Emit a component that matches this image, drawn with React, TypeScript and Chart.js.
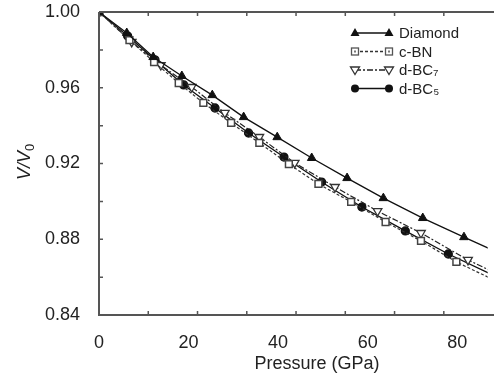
import React, { useEffect, useRef } from "react";
import { Chart, registerables } from "chart.js";

Chart.register(...registerables);

const seriesLabels = ["Diamond", "c-BN", "d-BC\u2087", "d-BC\u2085"];

const diamondP = [0, 6.2, 12.1, 18.5, 25.3, 32.3, 39.8, 47.5, 55.4, 63.5, 72.3, 81.5, 91.2];
const diamondV = [1.0, 0.9889, 0.9762, 0.9662, 0.9561, 0.9445, 0.9339, 0.9229, 0.9123, 0.9017, 0.8912, 0.8811, 0.8707];

const cbnP = [0, 6.8, 12.3, 17.8, 23.3, 29.5, 35.8, 42.4, 49.0, 56.3, 64.0, 71.9, 79.8, 88.2];
const cbnV = [1.0, 0.9852, 0.9736, 0.9625, 0.952, 0.9414, 0.9309, 0.9197, 0.9092, 0.8997, 0.8891, 0.8791, 0.868, 0.8585];

const bc7P = [0, 7.3, 13.8, 20.7, 28.1, 35.8, 43.7, 52.7, 62.2, 71.9, 82.4, 93.0];
const bc7V = [1.0, 0.9842, 0.972, 0.9604, 0.9467, 0.934, 0.9203, 0.9076, 0.8949, 0.8833, 0.8691, 0.857];

const bc5P = [0, 6.4, 12.5, 18.9, 25.9, 33.4, 41.3, 49.7, 58.7, 68.4, 78.0, 88.5];
const bc5V = [1.0, 0.9873, 0.9747, 0.9615, 0.9493, 0.9361, 0.9234, 0.9102, 0.897, 0.8844, 0.8722, 0.8605];

const xTickValues = [0, 20, 40, 60, 80];
const yTickValues = [0.84, 0.88, 0.92, 0.96, 1.0];
const xMinorTicks = [11, 22, 33, 44, 55, 66, 77];
const yMinorTicks = [0.86, 0.88, 0.9, 0.92, 0.94, 0.96, 0.98];

const FONT = '"Liberation Sans", Arial, sans-serif';

const pts = (xs: number[], ys: number[]) => xs.map((x, i) => ({ x, y: ys[i] }));

function drawMarker(ctx: CanvasRenderingContext2D, kind: string, x: number, y: number) {
  ctx.save();
  ctx.lineWidth = 1.3;
  if (kind === "tri") {
    ctx.fillStyle = "#111";
    ctx.beginPath();
    ctx.moveTo(x, y - 5);
    ctx.lineTo(x + 4.5, y + 3);
    ctx.lineTo(x - 4.5, y + 3);
    ctx.closePath();
    ctx.fill();
  } else if (kind === "sq") {
    ctx.fillStyle = "#fff";
    ctx.strokeStyle = "#555";
    ctx.fillRect(x - 3.5, y - 3.5, 7, 7);
    ctx.strokeRect(x - 3.5, y - 3.5, 7, 7);
    ctx.fillStyle = "#777";
    ctx.fillRect(x - 1, y - 1, 2, 2);
  } else if (kind === "dtri") {
    ctx.fillStyle = "#fff";
    ctx.strokeStyle = "#333";
    ctx.beginPath();
    ctx.moveTo(x, y + 4.5);
    ctx.lineTo(x + 4.5, y - 3);
    ctx.lineTo(x - 4.5, y - 3);
    ctx.closePath();
    ctx.fill();
    ctx.stroke();
  } else {
    ctx.fillStyle = "#111";
    ctx.beginPath();
    ctx.arc(x, y, 4, 0, Math.PI * 2);
    ctx.fill();
  }
  ctx.restore();
}

const markerKinds = ["tri", "sq", "dtri", "circ"];

const framePlugin = {
  id: "frame",
  afterDatasetsDraw(chart: any) {
    const { ctx, chartArea } = chart;
    const xs = chart.scales.x;
    const ys = chart.scales.y;
    const { left, top, bottom } = chartArea;
    const right = chart.width;
    ctx.save();
    ctx.strokeStyle = "#555";
    ctx.lineWidth = 2;
    ctx.beginPath();
    ctx.moveTo(left, top);
    ctx.lineTo(right, top);
    ctx.moveTo(left, top);
    ctx.lineTo(left, bottom);
    ctx.lineTo(right, bottom);
    ctx.stroke();
    ctx.lineWidth = 1.5;
    ctx.beginPath();
    xMinorTicks.forEach((v) => {
      const px = xs.getPixelForValue(v);
      ctx.moveTo(px, bottom);
      ctx.lineTo(px, bottom - 4);
      ctx.moveTo(px, top);
      ctx.lineTo(px, top + 4);
    });
    yMinorTicks.forEach((v) => {
      const py = ys.getPixelForValue(v);
      ctx.moveTo(left, py);
      ctx.lineTo(left + 4, py);
    });
    ctx.stroke();
    ctx.restore();
  },
  afterDraw(chart: any) {
    const { ctx, chartArea } = chart;
    ctx.save();
    const lx0 = chartArea.left + 256;
    const lx1 = chartArea.left + 290;
    chart.data.datasets.forEach((ds: any, i: number) => {
      const y = chartArea.top + 21 + i * 18.5;
      ctx.save();
      ctx.strokeStyle = ds.borderColor;
      ctx.lineWidth = 1.3;
      ctx.setLineDash(ds.borderDash || []);
      ctx.beginPath();
      ctx.moveTo(lx0, y);
      ctx.lineTo(lx1, y);
      ctx.stroke();
      ctx.restore();
      drawMarker(ctx, markerKinds[i], lx0, y);
      drawMarker(ctx, markerKinds[i], lx1, y);
      ctx.fillStyle = "#222";
      ctx.font = `15px ${FONT}`;
      ctx.textBaseline = "middle";
      ctx.textAlign = "left";
      ctx.fillText(ds.label, lx1 + 10, y + 1);
    });
    ctx.fillStyle = "#222";
    ctx.font = `18px ${FONT}`;
    ctx.textAlign = "center";
    ctx.textBaseline = "middle";
    ctx.fillText("Pressure (GPa)", 317, 364);
    ctx.save();
    ctx.translate(25, 162);
    ctx.rotate(-Math.PI / 2);
    ctx.font = `italic 18px ${FONT}`;
    const a = "V/V";
    const wA = ctx.measureText(a).width;
    ctx.font = `13px ${FONT}`;
    const wB = ctx.measureText("0").width;
    const start = -(wA + wB) / 2;
    ctx.textAlign = "left";
    ctx.font = `italic 18px ${FONT}`;
    ctx.fillText(a, start, 0);
    ctx.font = `13px ${FONT}`;
    ctx.fillText("0", start + wA, 5);
    ctx.restore();
    ctx.restore();
  },
};

export default function App() {
  const ref = useRef<HTMLCanvasElement | null>(null);
  useEffect(() => {
    document.body.style.margin = "0";
    const canvas = ref.current;
    if (!canvas) return;
    const chart = new Chart(canvas, {
      type: "scatter",
      data: {
        datasets: [
          {
            label: seriesLabels[0],
            data: pts(diamondP, diamondV),
            showLine: true,
            borderColor: "#111",
            borderWidth: 1.3,
            pointStyle: "triangle",
            pointRadius: 5,
            pointBackgroundColor: "#111",
            pointBorderColor: "#111",
            pointBorderWidth: 1,
          },
          {
            label: seriesLabels[1],
            data: pts(cbnP, cbnV),
            showLine: true,
            borderColor: "#333",
            borderWidth: 1.2,
            borderDash: [3, 2],
            pointStyle: "rect",
            pointRadius: 4.8,
            pointBackgroundColor: "#fff",
            pointBorderColor: "#444",
            pointBorderWidth: 1.5,
          },
          {
            label: seriesLabels[2],
            data: pts(bc7P, bc7V),
            showLine: true,
            borderColor: "#222",
            borderWidth: 1.2,
            borderDash: [6, 2, 2, 2],
            pointStyle: "triangle",
            rotation: 180,
            pointRadius: 5,
            pointBackgroundColor: "#fff",
            pointBorderColor: "#333",
            pointBorderWidth: 1.3,
          },
          {
            label: seriesLabels[3],
            data: pts(bc5P, bc5V),
            showLine: true,
            borderColor: "#111",
            borderWidth: 1.3,
            pointStyle: "circle",
            pointRadius: 4,
            pointBackgroundColor: "#111",
            pointBorderColor: "#111",
          },
        ],
      } as any,
      options: {
        animation: false,
        responsive: true,
        maintainAspectRatio: false,
        layout: { padding: { top: 12, right: 0, left: 0, bottom: 0 } },
        plugins: { legend: { display: false }, tooltip: { enabled: false } },
        scales: {
          x: {
            type: "linear",
            min: 0,
            max: 86.8,
            grid: { display: false },
            border: { display: false },
            afterFit: (s: any) => {
              s.height = 63;
              s.paddingLeft = 0;
              s.paddingRight = 0;
            },
            afterBuildTicks: (s: any) => {
              s.ticks = xTickValues.map((v) => ({ value: v }));
            },
            ticks: {
              padding: 9,
              color: "#222",
              font: { family: FONT, size: 18 },
              maxRotation: 0,
              callback: (v: any) => String(v),
            },
          },
          y: {
            type: "linear",
            min: 0.84,
            max: 1.0,
            grid: { display: false },
            border: { display: false },
            afterFit: (s: any) => {
              s.width = 99;
              s.paddingTop = 0;
              s.paddingBottom = 0;
            },
            afterBuildTicks: (s: any) => {
              s.ticks = yTickValues.map((v) => ({ value: v }));
            },
            ticks: {
              padding: 11,
              color: "#222",
              font: { family: FONT, size: 18 },
              callback: (v: any) => Number(v).toFixed(2),
            },
          },
        },
      } as any,
      plugins: [framePlugin],
    });
    return () => chart.destroy();
  }, []);
  return (
    <div style={{ width: 494, height: 378, position: "relative", background: "#fff" }}>
      <canvas ref={ref} />
    </div>
  );
}
